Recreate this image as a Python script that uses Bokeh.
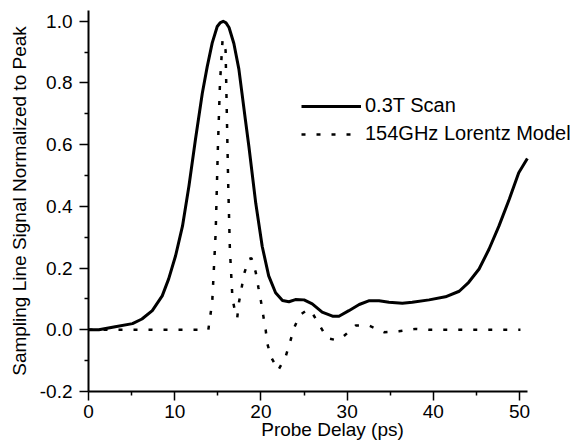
from bokeh.plotting import figure
from bokeh.models import (Range1d, FixedTicker, PrintfTickFormatter, Legend, LegendItem)
from bokeh.embed import file_html
from bokeh.resources import INLINE

# 0.3T Scan (solid)
scan_x = [0, 1.2, 3.1, 5.1, 6.2, 7.4, 8.55, 9.3, 10.1, 10.9, 11.65, 12.4, 13.2, 13.77,
          14.35, 14.93, 15.3, 15.62, 15.95, 16.3, 16.86, 17.44, 17.8, 18.2, 18.6, 19.4,
          20.15, 20.9, 21.7, 22.5, 23.25, 24.0, 25.0, 25.95, 27.1, 28.3, 29.05, 30.2, 31.4,
          32.5, 33.7, 34.85, 36.4, 37.55, 39.5, 41.4, 43.0, 44.1, 45.3, 46.45, 47.6, 48.8,
          49.9, 50.9]
scan_y = [0.0, 0.0, 0.01, 0.02, 0.035, 0.062, 0.11, 0.165, 0.24, 0.336, 0.466, 0.616, 0.767,
          0.853, 0.93, 0.983, 0.996, 1.0, 0.995, 0.98, 0.928, 0.845, 0.767, 0.68, 0.595,
          0.41, 0.27, 0.175, 0.12, 0.095, 0.091, 0.098, 0.097, 0.084, 0.057, 0.044, 0.044,
          0.062, 0.082, 0.094, 0.094, 0.089, 0.086, 0.089, 0.097, 0.107, 0.125, 0.154, 0.197,
          0.261, 0.336, 0.423, 0.509, 0.555]

# 154GHz Lorentz Model (dotted)
model_x = [0, 13.9, 14.35, 14.75, 15.0, 15.25, 15.55, 15.9, 16.05, 16.2, 16.4, 16.7, 17.1,
           17.25, 17.45, 17.75, 18.03, 18.6, 18.9, 19.4, 19.7, 20.0, 20.27, 20.55, 20.74,
           21.2, 22.0, 22.85, 23.35, 23.8, 24.5, 25.3, 25.8, 26.8, 27.7, 28.5, 29.35, 31.0,
           32.5, 34.3, 36.0, 37.9, 39.5, 50.1]
model_y = [0.0, 0.0, 0.09, 0.315, 0.584, 0.80, 0.94, 0.906, 0.69, 0.476, 0.26, 0.10, 0.046,
           0.039, 0.089, 0.134, 0.18, 0.229, 0.232, 0.186, 0.138, 0.093, 0.046, 0.0, -0.045,
           -0.09, -0.131, -0.088, -0.043, 0.003, 0.048, 0.063, 0.062, 0.014, -0.027, -0.032,
           -0.027, 0.014, 0.014, -0.008, -0.005, 0.003, 0.0, 0.0]

x_ticks = [0, 10, 20, 30, 40, 50]
x_minor = [5, 15, 25, 35, 45]
y_ticks = [-0.2, 0.0, 0.2, 0.4, 0.6, 0.8, 1.0]
y_minor = [-0.1, 0.1, 0.3, 0.5, 0.7, 0.9]

FONT = "Liberation Sans"

p = figure(width=576, height=444, output_backend="svg", toolbar_location=None,
           x_range=Range1d(0, 56.6), y_range=Range1d(-0.2, 1.035),
           min_border_left=88, min_border_right=0, min_border_top=10, min_border_bottom=53)
p.outline_line_color = None
p.xgrid.visible = False
p.ygrid.visible = False
p.background_fill_color = "white"
p.border_fill_color = "white"

l1 = p.line(scan_x, scan_y, line_color="black", line_width=3, line_join="round")
l2 = p.line(model_x, model_y, line_color="black", line_width=2.5, line_dash="4 11")

p.xaxis.ticker = FixedTicker(ticks=x_ticks, minor_ticks=x_minor)
p.yaxis.ticker = FixedTicker(ticks=y_ticks, minor_ticks=y_minor)
p.yaxis.formatter = PrintfTickFormatter(format="%.1f")
p.xaxis.bounds = (0, 50.9)
p.yaxis.bounds = (-0.2, 1.035)

p.xaxis.axis_label = "Probe Delay (ps)"
p.yaxis.axis_label = "Sampling Line Signal Normalized to Peak"

for ax in (p.xaxis, p.yaxis):
    ax.axis_line_color = "black"
    ax.axis_line_width = 2
    ax.major_tick_line_color = "black"
    ax.major_tick_line_width = 1.5
    ax.minor_tick_line_color = "black"
    ax.minor_tick_line_width = 1.5
    ax.major_tick_out = 9
    ax.major_tick_in = 0
    ax.minor_tick_out = 4
    ax.minor_tick_in = 0
    ax.major_label_text_font = FONT
    ax.major_label_text_font_size = "19px"
    ax.major_label_text_color = "black"
    ax.axis_label_text_font = FONT
    ax.axis_label_text_font_size = "19px"
    ax.axis_label_text_font_style = "normal"
    ax.axis_label_text_color = "black"

p.xaxis.major_label_standoff = 4
p.xaxis.axis_label_standoff = -2
p.yaxis.major_label_standoff = 7
p.yaxis.axis_label_standoff = 7

legend = Legend(items=[LegendItem(label="0.3T Scan", renderers=[l1]),
                       LegendItem(label="154GHz Lorentz Model", renderers=[l2])],
                location=(213, 246), glyph_width=60, glyph_height=22, label_height=22,
                spacing=5, label_standoff=4, padding=0, margin=0,
                border_line_alpha=0, background_fill_alpha=0,
                label_text_font=FONT, label_text_font_size="20px", label_text_color="black")
p.add_layout(legend)

open("out.html", "w").write(file_html(p, INLINE))
